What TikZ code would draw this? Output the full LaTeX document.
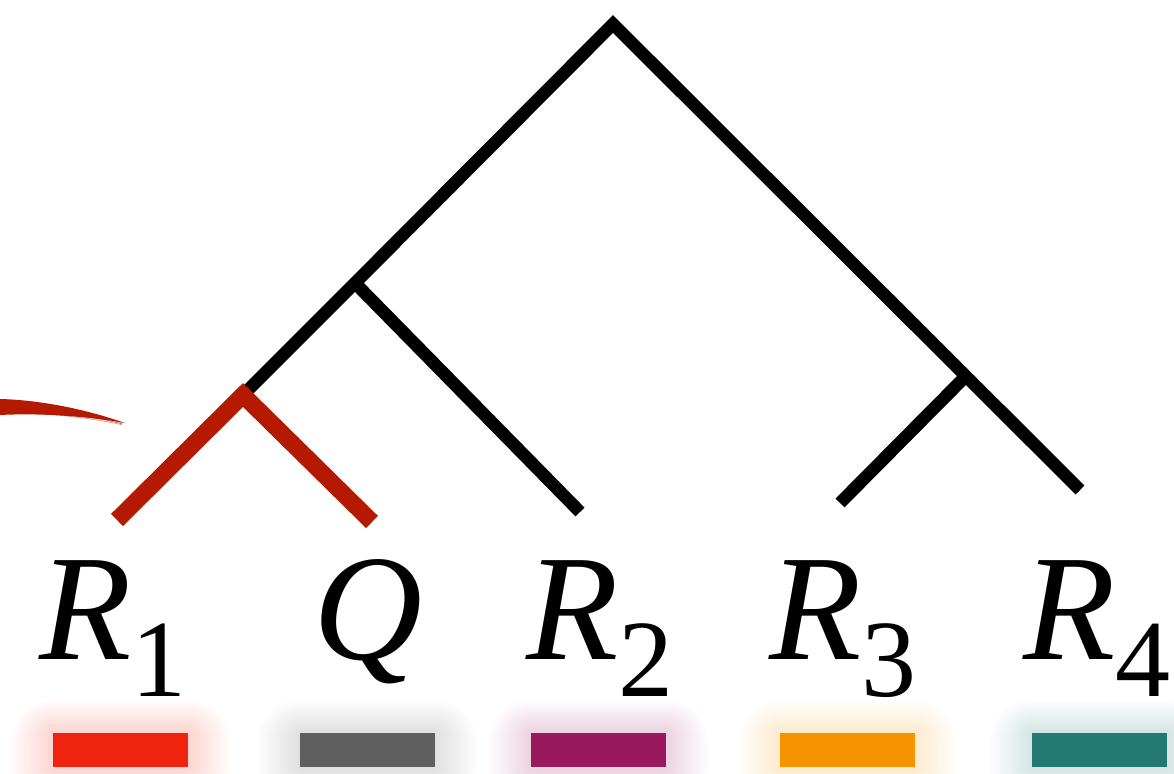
\documentclass[tikz,border=0pt]{standalone}
\usepackage{fontspec}
\setmainfont{Liberation Serif}
\usetikzlibrary{calc}
\definecolor{branchred}{HTML}{B51A00}
\definecolor{barred}{HTML}{F0230E}
\definecolor{bargray}{HTML}{5F5F5F}
\definecolor{barpurple}{HTML}{9A195E}
\definecolor{barorange}{HTML}{F59300}
\definecolor{barteal}{HTML}{237A74}
% leaf label: italic letter with a lowered upright index
\newcommand{\leafname}[2]{\fontsize{75.5}{80}\selectfont\textit{#1}\raisebox{-18.5pt}{\fontsize{55}{60}\selectfont #2}}
\tikzset{
  edge/.style={line width=6.3pt, line cap=butt, line join=miter, black},
  hiedge/.style={line width=8.5pt, line cap=butt, line join=miter, branchred},
  leaf/.style={anchor=base, inner sep=0pt},
  swatch/.style={minimum width=67.5pt, minimum height=17pt, inner sep=0pt, draw=none, fill=#1},
}
% soft coloured halo behind a swatch, a little heavier below
\newcommand{\glowbar}[3]{%
  \foreach \k in {1,...,24}{
    \fill[#3, opacity=0.009, rounded corners=0.9*\k pt] ($(#1)+(-1.8*\k,-1.4*\k)$) rectangle ($(#2)+(1.8*\k,1.8*\k)$);
  }
}
\begin{document}
\begin{tikzpicture}[x=0.5pt, y=-0.5pt]
\useasboundingbox (0,0) rectangle (1174,774);

% tree points
\coordinate (root) at (613,24);
\coordinate (a) at (355,283);
\coordinate (b) at (243,395);
\coordinate (c) at (965,377);
\coordinate (l1) at (117,520);
\coordinate (lq) at (372,522);
\coordinate (l2) at (580,512);
\coordinate (l3) at (840,503);
\coordinate (l4) at (1080,490);

% black branches
\draw[edge] (b) -- (a) -- (root) -- (l4);
\draw[edge] (a) -- (l2);
\draw[edge] (c) -- (l3);

% highlighted cherry
\draw[hiedge] (l1) -- (b) -- (lq);

% brush stroke
\fill[branchred] (0,399) .. controls (40,400) and (85,409) .. (125,423)
  .. controls (85,416) and (40,413) .. (0,415) -- cycle;
\foreach \dy/\op in {-2/0.5, 3/0.6, 7/0.4}{
  \draw[branchred, line width=0.4pt, opacity=\op] (0,{404+\dy}) .. controls (40,{406+\dy}) and (85,{413+\dy/2}) .. (122,{423+\dy/4});
}

% leaf labels
\node[leaf] (n1) at (113,660) {\leafname{R}{1}};
\node[leaf] (nq) at (368,660) {\leafname{Q}{}};
\node[leaf] (n2) at (600,660) {\leafname{R}{2}};
\node[leaf] (n3) at (843,660) {\leafname{R}{3}};
\node[leaf] (n4) at (1097,660) {\leafname{R}{4}};

% colour swatches with glow
\glowbar{53,733}{188,767}{barred}
\glowbar{300,733}{435,767}{bargray}
\glowbar{531,733}{666,767}{barpurple}
\glowbar{780,733}{915,767}{barorange}
\glowbar{1032,733}{1167,767}{barteal}
\node[swatch=barred] (s1) at (120.5,750) {};
\node[swatch=bargray] (sq) at (367.5,750) {};
\node[swatch=barpurple] (s2) at (598.5,750) {};
\node[swatch=barorange] (s3) at (847.5,750) {};
\node[swatch=barteal] (s4) at (1099.5,750) {};
\end{tikzpicture}
\end{document}
